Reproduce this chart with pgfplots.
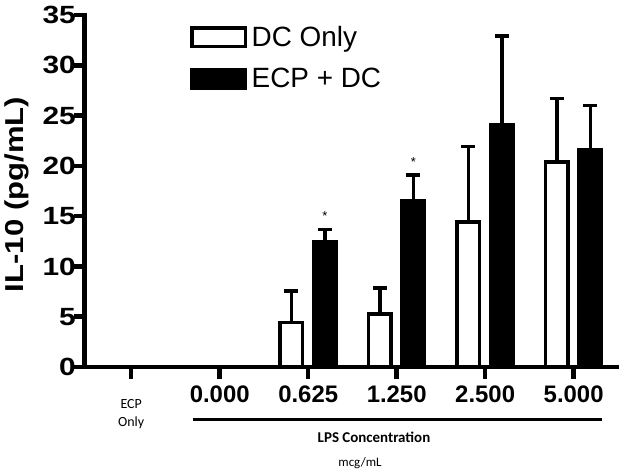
\documentclass[border=0pt]{standalone}
\usepackage{fontspec}
\setmainfont{Liberation Sans}
\newfontfamily\carlito{Carlito}
\usepackage{graphicx}
\usepackage{pgfplots}
\pgfplotsset{compat=1.18}
\begin{document}
\begin{tikzpicture}
\path[use as bounding box] (-84.5bp,-109bp) rectangle (539.5bp,367bp);
\begin{axis}[
  at={(0,0)}, anchor=south west,
  scale only axis, width=532.5bp, height=352bp,
  xmin=-0.528, xmax=5.49, ymin=0, ymax=35,
  ybar=11bp, bar width=22.45bp,
  axis x line*=bottom, axis y line*=left,
  axis line style={line width=4.5bp, line cap=rect},
  xtick={0,1,2,3,4,5},
  xticklabels={{},0.000,0.625,1.250,2.500,5.000},
  ytick={0,5,10,15,20,25,30,35},
  yticklabel={\scalebox{1.2}[1]{\pgfmathprintnumber{\tick}}},
  /pgf/number format/assume math mode=true,
  tick align=outside, major tick length=10bp,
  tick style={line width=4.5bp, black},
  major x tick style={/pgfplots/major tick length=12bp, draw=black, line width=4.5bp},
  major y tick style={/pgfplots/major tick length=10bp, draw=black, line width=4.5bp},
  xticklabel style={font=\fontsize{24}{28}\selectfont\bfseries, inner sep=0pt, yshift=-9bp},
  yticklabel style={font=\fontsize{25}{30}\selectfont\bfseries, inner sep=0pt, xshift=1.5bp},
  every axis y label/.style={at={(axis description cs:-0.1268,0.490)}, rotate=90, anchor=center},
  ylabel={\fontsize{26}{30}\selectfont\bfseries\scalebox{1.2}[1]{IL-10 (pg/mL)}},
  legend style={at={(axis description cs:0.1981,0.972)}, anchor=north west, draw=none, fill=none,
    inner sep=0pt, row sep=17bp, font=\fontsize{28}{32}\selectfont,
    nodes={inner sep=1.5bp},
    /tikz/every odd column/.append style={column sep=3bp}},
  legend cell align=left,
  clip=false,
]
\addplot[fill=white, draw=black, line width=3.5bp,
  legend image code/.code={\draw[line width=3.5bp, fill=white, draw=black] (0bp,-9.25bp) rectangle (53.5bp,9.25bp);},
  error bars/.cd, y dir=plus, y explicit,
  error bar style={line width=3.3bp, black},
  error mark=|,
  error mark options={line width=3.3bp, mark size=7bp, black}]
  coordinates {(0,0) +- (0,0) (1,0) +- (0,0) (2,4.4) +- (0,3.15) (3,5.25) +- (0,2.6) (4,14.4) +- (0,7.5) (5,20.4) +- (0,6.3)};
\addlegendentry{DC Only}
\addplot[fill=black, draw=black, line width=3.5bp,
  legend image code/.code={\draw[line width=3.5bp, fill=black, draw=black] (0bp,-9.25bp) rectangle (53.5bp,9.25bp);},
  error bars/.cd, y dir=plus, y explicit,
  error bar style={line width=3.3bp, black},
  error mark=|,
  error mark options={line width=3.3bp, mark size=7bp, black}]
  coordinates {(0,0) +- (0,0) (1,0) +- (0,0) (2,12.5) +- (0,1.2) (3,16.5) +- (0,2.6) (4,24.05) +- (0,8.85) (5,21.6) +- (0,4.4)};
\addlegendentry{ECP + DC}
\node[font=\fontsize{13}{13}\selectfont, inner sep=0pt] at (axis cs:2.189,15.0) {*};
\node[font=\fontsize{13}{13}\selectfont, inner sep=0pt] at (axis cs:3.189,20.35) {*};
\end{axis}
\node[font=\carlito\fontsize{14}{18}\selectfont, align=center, inner sep=0pt] at (46.7bp,-47bp) {ECP\\Only};
\draw[line width=3bp] (108.5bp,-52bp) -- (517.5bp,-52bp);
\node[font=\carlito\fontsize{15}{18}\selectfont\bfseries, inner sep=0pt] at (289.5bp,-70bp) {LPS Concentration};
\node[font=\carlito\fontsize{13}{16}\selectfont, inner sep=0pt] at (275.5bp,-96bp) {mcg/mL};
\end{tikzpicture}
\end{document}
